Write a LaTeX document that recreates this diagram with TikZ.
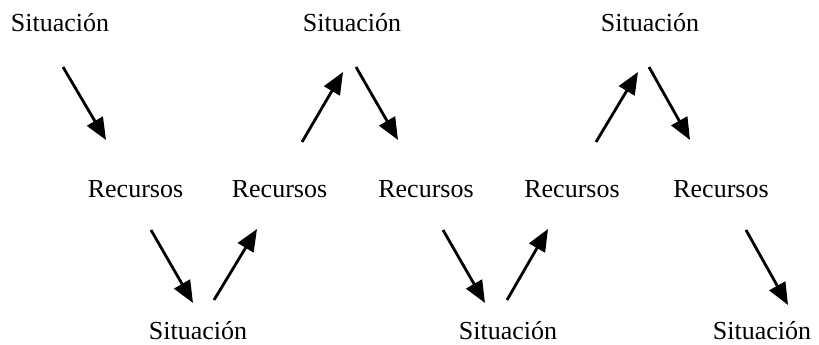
\documentclass[tikz,border=0pt]{standalone}
\usepackage{fontspec}
\setmainfont{Liberation Serif}
\usetikzlibrary{arrows.meta}
\begin{document}
\begin{tikzpicture}[x=1pt,y=-1pt,
  word/.style={inner sep=0pt,anchor=base,font=\fontsize{26}{30}\selectfont},
  flow/.style={line width=2.8pt,-{Triangle[length=22pt,width=18pt]}}]
\useasboundingbox (0,0) rectangle (819,345);
\def\yt{32};
\def\ym{197};
\def\yb{339};
% situaciones y recursos
\node[word] (S1) at (60,\yt) {Situación};
\node[word] (S2) at (352,\yt) {Situación};
\node[word] (S3) at (650,\yt) {Situación};
\node[word] (R1) at (135.5,\ym) {Recursos};
\node[word] (R2) at (279.5,\ym) {Recursos};
\node[word] (R3) at (426,\ym) {Recursos};
\node[word] (R4) at (572,\ym) {Recursos};
\node[word] (R5) at (721,\ym) {Recursos};
\node[word] (B1) at (198,\yb) {Situación};
\node[word] (B2) at (508,\yb) {Situación};
\node[word] (B3) at (762,\yb) {Situación};
% extremos de las flechas
\coordinate (a1) at (63,67);   \coordinate (b1) at (106,140);
\coordinate (a2) at (151,230); \coordinate (b2) at (193,303);
\coordinate (a3) at (214,300); \coordinate (b3) at (257,229);
\coordinate (a4) at (302,142); \coordinate (b4) at (343,72);
\coordinate (a5) at (356,67);  \coordinate (b5) at (398,140);
\coordinate (a6) at (443,230); \coordinate (b6) at (485,303);
\coordinate (a7) at (507,300); \coordinate (b7) at (548,229);
\coordinate (a8) at (596,142); \coordinate (b8) at (638,72);
\coordinate (a9) at (649,67);  \coordinate (b9) at (690,140);
\coordinate (a10) at (746,230); \coordinate (b10) at (788,305);
\foreach \i in {1,...,10}
  \draw[flow] (a\i) -- (b\i);
\end{tikzpicture}
\end{document}
